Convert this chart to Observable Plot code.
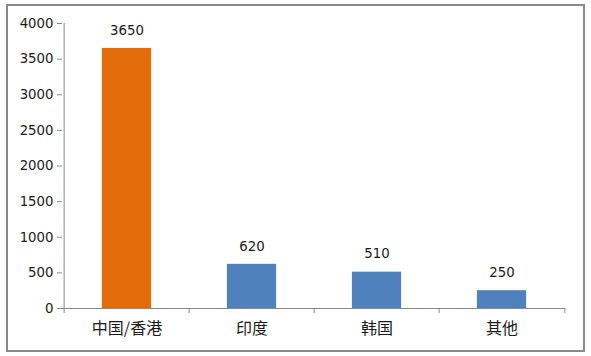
<!DOCTYPE html>
<html>
<head>
<meta charset="utf-8">
<script src="https://cdn.jsdelivr.net/npm/d3@7"></script>
<script src="https://cdn.jsdelivr.net/npm/@observablehq/plot@0.6"></script>
<style>
  html, body { margin: 0; padding: 0; background: #fff; }
  #wrap { position: relative; width: 591px; height: 356px; }
  #box { position: absolute; left: 6px; top: 4px; width: 575px; height: 344px; border: 2px solid #8a8a8a; box-sizing: content-box; pointer-events: none; }
  svg { display: block; }
  #wrap svg text { font-family: 'DejaVu Sans', sans-serif !important; font-size: 13.3px !important; fill: #1a1a1a; }
  #wrap svg g[aria-label="x-axis tick label"] text { font-family: 'Noto Sans CJK SC', sans-serif !important; font-size: 16px !important; }
</style>
</head>
<body>
<div id="wrap"><div id="box"></div></div>
<script>
const categories = ["中国/香港", "印度", "韩国", "其他"];
const values = [3650, 620, 510, 250];
const colors = ["#E36C0A", "#4F81BD", "#4F81BD", "#4F81BD"];
const yTicks = [0, 500, 1000, 1500, 2000, 2500, 3000, 3500, 4000];

const data = categories.map((c, i) => ({cat: c, value: values[i], color: colors[i]}));

const W = 591, H = 356, mL = 62, mR = 26, mT = 23, mB = 48;
const step = (W - mL - mR) / categories.length;
const halfStep = step / 2;
const barInset = (step - 50) / 2;

const chart = Plot.plot({
  width: W,
  height: H,
  marginLeft: mL,
  marginRight: mR,
  marginTop: mT,
  marginBottom: mB,
  style: {background: "transparent"},
  x: {domain: categories, padding: 0, label: null},
  y: {domain: [0, 4000], label: null},
  color: {type: "identity"},
  marks: [
    Plot.barY(data, {x: "cat", y: "value", fill: "color", insetLeft: barInset, insetRight: barInset}),
    Plot.text(data, {x: "cat", y: "value", text: d => String(d.value), dy: -18}),
    Plot.axisY({ticks: yTicks, tickFormat: d => String(d), tickSize: 5, tickPadding: 4, stroke: "#888", label: null}),
    Plot.axisX({tickSize: 0, tickPadding: 14, label: null}),
    Plot.ruleY([0], {stroke: "#888"}),
    Plot.ruleX(categories, {x: d => d, dx: -halfStep, y1: 0, y2: 0, insetBottom: -5, stroke: "#888"}),
    Plot.ruleX(categories.slice(-1), {x: d => d, dx: halfStep, y1: 0, y2: 0, insetBottom: -5, stroke: "#888"}),
    Plot.ruleX(categories.slice(0, 1), {x: d => d, dx: -halfStep, y1: 0, y2: 4000, stroke: "#888"})
  ]
});
document.getElementById("wrap").prepend(chart);
</script>
</body>
</html>
